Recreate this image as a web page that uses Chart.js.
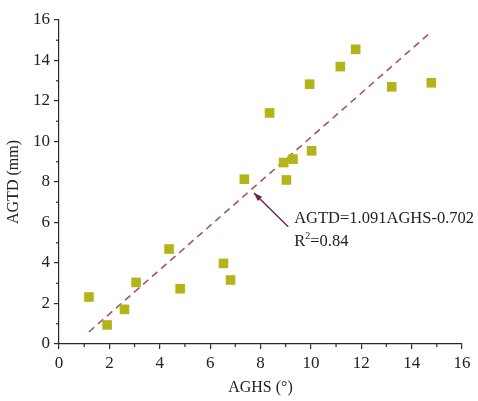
<!DOCTYPE html>
<html>
<head>
<meta charset="utf-8">
<script src="https://cdn.jsdelivr.net/npm/chart.js@4.4.0/dist/chart.umd.min.js"></script>
<style>
  html, body { margin: 0; padding: 0; background: #fff; }
  .wrap { width: 478px; height: 401px; position: relative; }
</style>
</head>
<body>
<div class="wrap"><canvas id="fit-chart"></canvas></div>
<script>
  const aghs = [1.19, 1.91, 2.60, 3.06, 4.37, 4.81, 6.53, 6.81, 7.36, 9.03,
    8.92, 9.29, 10.03, 8.36, 9.95, 11.17, 11.78, 13.21, 14.78]
  const agtd = [2.32, 0.94, 1.71, 3.04, 4.69, 2.73, 3.98, 3.16, 8.14, 8.10,
    8.96, 9.13, 9.54, 11.41, 12.83, 13.70, 14.55, 12.70, 12.90]

  // ends of the fitted line
  const fitX = [1.19, 14.78]
  const fitY = [0.60, 15.42]

  const eqText = 'AGTD=1.091AGHS-0.702'
  const r2Text = '0.84'

  const axisColor = '#2a2a2a'
  const serif = "'Liberation Serif', 'DejaVu Serif', serif"

  const minorTicks = {
    id: 'minorTicks',
    afterDraw(chart) {
      const { ctx, scales: { x, y } } = chart
      ctx.save()
      ctx.strokeStyle = axisColor
      ctx.lineWidth = 1.2
      for (let v = 1; v < 16; v += 2) {
        const px = x.getPixelForValue(v)
        ctx.beginPath()
        ctx.moveTo(px, x.top)
        ctx.lineTo(px, x.top + 3)
        ctx.stroke()
        const py = y.getPixelForValue(v)
        ctx.beginPath()
        ctx.moveTo(y.right, py)
        ctx.lineTo(y.right - 3, py)
        ctx.stroke()
      }
      ctx.restore()
    },
  }

  const fitLabel = {
    id: 'fitLabel',
    afterDatasetsDraw(chart) {
      const { ctx, scales: { x, y } } = chart
      const x0 = x.getPixelForValue(9.1)
      const y0 = y.getPixelForValue(5.79)
      const x1 = x.getPixelForValue(7.74)
      const y1 = y.getPixelForValue(7.46)
      ctx.save()
      ctx.strokeStyle = '#6e1a55'
      ctx.fillStyle = '#6e1a55'
      ctx.lineWidth = 1.3
      ctx.beginPath()
      ctx.moveTo(x0, y0)
      ctx.lineTo(x1, y1)
      ctx.stroke()
      const ang = Math.atan2(y1 - y0, x1 - x0)
      ctx.beginPath()
      ctx.moveTo(x1, y1)
      ctx.lineTo(x1 - 9 * Math.cos(ang - 0.35), y1 - 9 * Math.sin(ang - 0.35))
      ctx.lineTo(x1 - 9 * Math.cos(ang + 0.35), y1 - 9 * Math.sin(ang + 0.35))
      ctx.closePath()
      ctx.fill()

      ctx.fillStyle = '#222'
      ctx.textBaseline = 'alphabetic'
      ctx.textAlign = 'left'
      ctx.font = '16.5px ' + serif
      const tx = x0 + 6
      ctx.fillText(eqText, tx, y0 - 4)
      ctx.fillText('R', tx, y0 + 19)
      const rw = ctx.measureText('R').width
      ctx.font = '10px ' + serif
      ctx.fillText('2', tx + rw, y0 + 12)
      const sw = ctx.measureText('2').width
      ctx.font = '16.5px ' + serif
      ctx.fillText('=' + r2Text, tx + rw + sw, y0 + 19)
      ctx.restore()
    },
  }

  const points = aghs.map((v, i) => ({ x: v, y: agtd[i] }))
  const fitLine = fitX.map((v, i) => ({ x: v, y: fitY[i] }))

  const ctx = document.getElementById('fit-chart').getContext('2d')
  /* eslint-disable no-new */
  new Chart(ctx, {
    type: 'scatter',
    data: {
      datasets: [
        {
          data: fitLine,
          showLine: true,
          borderColor: '#a8555a',
          borderWidth: 1.6,
          borderDash: [7, 5],
          pointRadius: 0,
          fill: false,
          order: 2,
        },
        {
          data: points,
          pointStyle: 'rect',
          pointRadius: 6.8,
          backgroundColor: '#b3b417',
          borderColor: '#b3b417',
          borderWidth: 0,
          order: 1,
        },
      ],
    },
    options: {
      responsive: true,
      maintainAspectRatio: false,
      animation: false,
      layout: { padding: { left: 0, top: 20, right: 16, bottom: 0 } },
      plugins: { legend: { display: false }, tooltip: { enabled: false } },
      scales: {
        x: {
          type: 'linear',
          min: 0,
          max: 16,
          afterFit: (s) => { s.height = 57 },
          ticks: { stepSize: 2, color: '#222', padding: 4, font: { family: serif, size: 17 } },
          grid: { drawOnChartArea: false, drawTicks: true, tickLength: 5, color: axisColor, lineWidth: 1.2 },
          border: { color: axisColor, width: 1.2 },
          title: {
            display: true,
            text: 'AGHS (°)',
            color: '#222',
            font: { family: serif, size: 16 },
            padding: { top: 0, bottom: 4 },
          },
        },
        y: {
          type: 'linear',
          min: 0,
          max: 16,
          afterFit: (s) => { s.width = 59 },
          ticks: { stepSize: 2, color: '#222', padding: 4, font: { family: serif, size: 17 } },
          grid: { drawOnChartArea: false, drawTicks: true, tickLength: 5, color: axisColor, lineWidth: 1.2 },
          border: { color: axisColor, width: 1.2 },
          title: {
            display: true,
            text: 'AGTD (mm)',
            color: '#222',
            font: { family: serif, size: 16 },
            padding: { top: 4, bottom: 0 },
          },
        },
      },
    },
    plugins: [minorTicks, fitLabel],
  })
</script>
</body>
</html>
